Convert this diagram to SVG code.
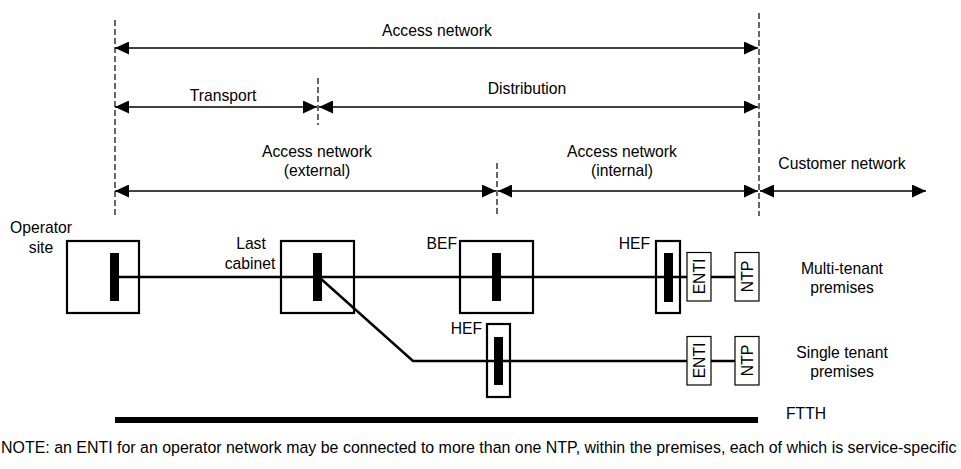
<svg xmlns="http://www.w3.org/2000/svg" width="961" height="469" viewBox="0 0 961 469">
<defs>
<style>
text{font-family:"Liberation Sans",Arial,sans-serif;font-size:15.7px;fill:#000}
.c{text-anchor:middle}
.r{text-anchor:end}
.note{font-size:15.95px}
.dash{stroke:#000;stroke-width:1.2;stroke-dasharray:6 3;fill:none}
.dim{stroke:#000;stroke-width:1.5;fill:none}
.box{fill:#fff;stroke:#000;stroke-width:2.2}
.sbox{fill:#fff;stroke:#000;stroke-width:1.2}
.bar{fill:#000}
.fib{stroke:#000;stroke-width:2.5;fill:none}
</style>
<marker id="ah" viewBox="0 0 14 13" refX="14" refY="6.5" markerWidth="14" markerHeight="13" markerUnits="userSpaceOnUse" orient="auto-start-reverse">
<path d="M0,0 L14,6.5 L0,13 Z" fill="#000"/>
</marker>
</defs>
<rect width="961" height="469" fill="#fff"/>

<g id="boundaries">
<line class="dash" x1="115" y1="20" x2="115" y2="216"/>
<line class="dash" x1="318" y1="78" x2="318" y2="125"/>
<line class="dash" x1="497" y1="163" x2="497" y2="217"/>
<line class="dash" x1="759" y1="13" x2="759" y2="216"/>
</g>

<g id="dimensions">
<line class="dim" x1="115" y1="48" x2="758" y2="48" marker-start="url(#ah)" marker-end="url(#ah)"/>
<text class="c" x="437" y="35.5">Access network</text>
<line class="dim" x1="115" y1="107" x2="317" y2="107" marker-start="url(#ah)" marker-end="url(#ah)"/>
<text class="c" x="223" y="100.5">Transport</text>
<line class="dim" x1="319" y1="107" x2="758" y2="107" marker-start="url(#ah)" marker-end="url(#ah)"/>
<text class="c" x="527" y="93.5">Distribution</text>
<line class="dim" x1="115" y1="191" x2="496" y2="191" marker-start="url(#ah)" marker-end="url(#ah)"/>
<text class="c" x="317" y="156.5">Access network</text>
<text class="c" x="317" y="175.5">(external)</text>
<line class="dim" x1="498" y1="191" x2="758" y2="191" marker-start="url(#ah)" marker-end="url(#ah)"/>
<text class="c" x="622" y="156.5">Access network</text>
<text class="c" x="622" y="175.5">(internal)</text>
<line class="dim" x1="760" y1="191" x2="926" y2="191" marker-start="url(#ah)" marker-end="url(#ah)"/>
<text class="c" x="842" y="168.5">Customer network</text>
</g>

<g id="node-operator-site">
<rect class="box" x="67" y="241" width="72" height="72"/>
<text class="c" x="41" y="232.5">Operator</text>
<text class="c" x="41" y="252.5">site</text>
</g>
<g id="node-last-cabinet">
<rect class="box" x="281" y="241" width="73" height="72"/>
<text class="c" x="251" y="248.5">Last</text>
<text class="c" x="250" y="268.5">cabinet</text>
</g>
<g id="node-bef">
<rect class="box" x="460" y="241" width="73" height="72"/>
<text class="r" x="457" y="248.5">BEF</text>
</g>
<g id="node-hef-multi">
<rect class="box" x="656" y="241" width="24" height="72"/>
<text class="r" x="650" y="248.5">HEF</text>
</g>
<g id="node-hef-single">
<rect class="box" x="487" y="324" width="23" height="73"/>
<text class="r" x="482" y="333.5">HEF</text>
</g>

<g id="connectors">
<polyline class="fib" points="115,277 687,277"/>
<line class="fib" x1="711" y1="277" x2="735" y2="277"/>
<polyline class="fib" points="320,278 413,361 687,361"/>
<line class="fib" x1="711" y1="361" x2="735" y2="361"/>
</g>

<g id="splices">
<rect class="bar" x="110" y="253" width="9" height="48"/>
<rect class="bar" x="313" y="253" width="9" height="48"/>
<rect class="bar" x="492" y="253" width="9" height="48"/>
<rect class="bar" x="664" y="253" width="9" height="49"/>
<rect class="bar" x="494" y="337" width="9" height="48"/>
</g>

<g id="node-enti-multi">
<rect class="sbox" x="687" y="252.5" width="24" height="48.5"/>
<text class="c" transform="translate(704.5,276.5) rotate(-90)" x="0" y="0">ENTI</text>
</g>
<g id="node-ntp-multi">
<rect class="sbox" x="735" y="252.5" width="24" height="48.5"/>
<text class="c" transform="translate(752.5,276.5) rotate(-90)" x="0" y="0">NTP</text>
</g>
<g id="node-enti-single">
<rect class="sbox" x="687" y="336.5" width="24" height="48.5"/>
<text class="c" transform="translate(704.5,360.5) rotate(-90)" x="0" y="0">ENTI</text>
</g>
<g id="node-ntp-single">
<rect class="sbox" x="735" y="336.5" width="24" height="48.5"/>
<text class="c" transform="translate(752.5,360.5) rotate(-90)" x="0" y="0">NTP</text>
</g>

<g id="labels">
<text class="c" x="842" y="273.5">Multi-tenant</text>
<text class="c" x="842" y="292.5">premises</text>
<text class="c" x="842" y="357.5">Single tenant</text>
<text class="c" x="842" y="376.5">premises</text>
</g>

<g id="node-ftth">
<rect class="bar" x="115" y="417" width="643" height="6"/>
<text x="786" y="418.5">FTTH</text>
</g>

<text class="note" x="1" y="452.5">NOTE: an ENTI for an operator network may be connected to more than one NTP, within the premises, each of which is service-specific</text>
</svg>
